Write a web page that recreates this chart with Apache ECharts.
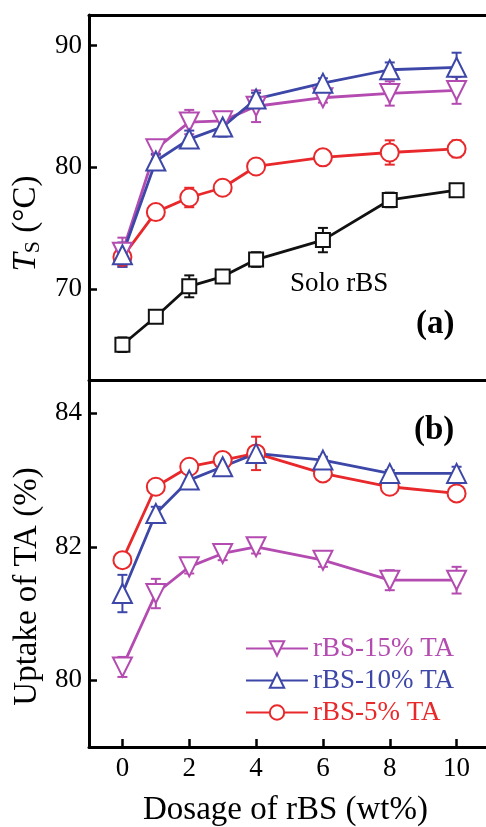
<!DOCTYPE html>
<html><head><meta charset="utf-8">
<script src="https://cdn.jsdelivr.net/npm/echarts@6/dist/echarts.min.js"></script>
<style>html,body{margin:0;padding:0;background:#fff}#c{width:486px;height:827px}</style>
</head><body><div id="c"></div><script>
// ---- data ----
const dosage = [0, 1, 2, 3, 4, 6, 8, 10];
const xTicks = [0, 2, 4, 6, 8, 10];
const tsTicks = [70, 80, 90];
const upTicks = [80, 82, 84];

// panel (a): Ts (°C)
const tsSolo = [65.4, 67.7, 70.2, 71.0, 72.4, 74.0, 77.3, 78.1];
const tsSoloErr = [0.6, 0.2, 0.9, 0.3, 0.6, 1.0, 0.6, 0.5];
const tsTA5 = [72.6, 76.3, 77.5, 78.3, 80.05, 80.8, 81.2, 81.5];
const tsTA5Err = [0.3, 0.2, 0.8, 0.6, 0.3, 0.3, 1.0, 0.7];
const tsTA10 = [72.8, 80.5, 82.3, 83.3, 85.6, 86.9, 88.0, 88.2];
const tsTA10Err = [1.0, 0.6, 0.7, 0.8, 0.5, 0.4, 0.6, 1.2];
const tsTA15 = [73.0, 81.5, 83.7, 83.8, 85.0, 85.7, 86.05, 86.3];
const tsTA15Err = [1.2, 0.5, 1.0, 0.7, 1.3, 0.4, 1.0, 1.1];

// panel (b): Uptake of TA (%)
const upTA5 = [81.8, 82.9, 83.2, 83.3, 83.4, 83.1, 82.9, 82.8];
const upTA5Err = [0.05, 0.05, 0.05, 0.1, 0.25, 0.1, 0.05, 0.05];
const upTA10 = [81.3, 82.5, 83.0, 83.2, 83.4, 83.3, 83.1, 83.1];
const upTA10Err = [0.28, 0.1, 0.1, 0.1, 0.05, 0.05, 0.05, 0.1];
const upTA15 = [80.2, 81.3, 81.7, 81.9, 82.0, 81.8, 81.5, 81.5];
const upTA15Err = [0.15, 0.22, 0.1, 0.1, 0.1, 0.1, 0.15, 0.2];

const names = ['rBS-15% TA', 'rBS-10% TA', 'rBS-5% TA'];
const soloName = 'Solo rBS';

// ---- styling ----
const FONT = 'Liberation Serif';
const C15 = '#B44BB0', C10 = '#3D47A8', C5 = '#E8282B', CS = '#111111';

const pairs = (ys) => dosage.map((x, i) => [x, ys[i]]);
const errs = (ys, es) => dosage.map((x, i) => [x, ys[i] - es[i], ys[i] + es[i]]);

function errRender(color) {
  return function (params, api) {
    const x = api.value(0), lo = api.value(1), hi = api.value(2);
    const p1 = api.coord([x, lo]), p2 = api.coord([x, hi]);
    const w = 5;
    const st = { stroke: color, lineWidth: 2 };
    return { type: 'group', children: [
      { type: 'line', shape: { x1: p1[0], y1: p1[1], x2: p2[0], y2: p2[1] }, style: st },
      { type: 'line', shape: { x1: p1[0] - w, y1: p1[1], x2: p1[0] + w, y2: p1[1] }, style: st },
      { type: 'line', shape: { x1: p2[0] - w, y1: p2[1], x2: p2[0] + w, y2: p2[1] }, style: st }
    ]};
  };
}

function lineSeries(name, ys, color, symbol, size, rot, gi) {
  return {
    type: 'line', name, xAxisIndex: gi === 0 ? 0 : 2, yAxisIndex: gi,
    data: pairs(ys), symbol, symbolSize: size, symbolRotate: rot,
    showAllSymbol: true, z: 3,
    lineStyle: { color, width: 2.8 },
    itemStyle: { color, borderWidth: 2 },
    emphasis: { disabled: true }, animation: false
  };
}
function errSeries(ys, es, color, gi) {
  return {
    type: 'custom', xAxisIndex: gi === 0 ? 0 : 2, yAxisIndex: gi,
    data: errs(ys, es), encode: { x: 0, y: [1, 2] },
    renderItem: errRender(color), z: 2, silent: true, animation: false
  };
}

const axisLine = { show: true, onZero: false, lineStyle: { color: '#000', width: 3 } };
const labelStyle = { fontFamily: FONT, fontSize: 27, color: '#000' };

const chart = echarts.init(document.getElementById('c'), null, { renderer: 'canvas' });
chart.setOption({
  backgroundColor: '#fff',
  animation: false,
  grid: [
    { left: 89, top: 15, width: 401, height: 365, outerBoundsMode: 'none', containLabel: false },
    { left: 89, top: 380, width: 401, height: 367, outerBoundsMode: 'none', containLabel: false }
  ],
  xAxis: [
    { gridIndex: 0, type: 'value', min: -1, max: 11, position: 'bottom',
      axisLine, axisTick: { show: false }, axisLabel: { show: false }, splitLine: { show: false } },
    { gridIndex: 0, type: 'value', min: -1, max: 11, position: 'top',
      axisLine, axisTick: { show: false }, axisLabel: { show: false }, splitLine: { show: false } },
    { gridIndex: 1, type: 'value', min: -1, max: 11, position: 'bottom',
      axisLine,
      axisTick: { show: true, inside: true, length: 8, customValues: xTicks, lineStyle: { width: 2.5, color: '#000' } },
      axisLabel: Object.assign({ margin: 8, customValues: xTicks }, labelStyle),
      splitLine: { show: false },
      name: 'Dosage of rBS (wt%)', nameLocation: 'middle', nameGap: 47,
      nameTextStyle: { fontFamily: FONT, fontSize: 33, color: '#000', padding: [0, 8, 0, 0] } }
  ],
  yAxis: [
    { gridIndex: 0, type: 'value', min: 62.5, max: 92.5,
      axisLine,
      axisTick: { show: true, inside: true, length: 8, customValues: tsTicks, lineStyle: { width: 2.5, color: '#000' } },
      axisLabel: Object.assign({ margin: 7, customValues: tsTicks }, labelStyle),
      splitLine: { show: false },
      name: '{t|T}{s|S} (°C)', nameLocation: 'middle', nameGap: 43, nameRotate: 90,
      nameTextStyle: { fontFamily: FONT, fontSize: 33, color: '#000', padding: [0, 52, 0, 0],
        rich: { t: { fontFamily: FONT, fontSize: 33, fontStyle: 'italic', color: '#000' },
                s: { fontFamily: FONT, fontSize: 22, color: '#000', padding: [14, 0, 0, 0] } } } },
    { gridIndex: 1, type: 'value', min: 79, max: 84.5,
      axisLine,
      axisTick: { show: true, inside: true, length: 8, customValues: upTicks, lineStyle: { width: 2.5, color: '#000' } },
      axisLabel: Object.assign({ margin: 7, customValues: upTicks }, labelStyle),
      splitLine: { show: false },
      name: 'Uptake of TA (%)', nameLocation: 'middle', nameGap: 45, nameRotate: 90,
      nameTextStyle: { fontFamily: FONT, fontSize: 33, color: '#000', padding: [0, 46, 0, 0] } }
  ],
  legend: {
    orient: 'vertical', left: 240, top: 630, itemWidth: 62, itemHeight: 18, itemGap: 5,
    selectedMode: false,
    data: [
      { name: names[0], textStyle: { color: C15 } },
      { name: names[1], textStyle: { color: C10 } },
      { name: names[2], textStyle: { color: C5 } }
    ],
    textStyle: { fontFamily: FONT, fontSize: 27 }
  },
  graphic: [
    { type: 'text', left: 290, top: 270, silent: true,
      style: { text: soloName, fontFamily: FONT, fontSize: 27, fill: '#000' } },
    { type: 'text', left: 416, top: 308, silent: true,
      style: { text: '(a)', fontFamily: FONT, fontSize: 33, fontWeight: 'bold', fill: '#000' } },
    { type: 'text', left: 414, top: 414, silent: true,
      style: { text: '(b)', fontFamily: FONT, fontSize: 33, fontWeight: 'bold', fill: '#000' } }
  ],
  series: [
    errSeries(tsSolo, tsSoloErr, CS, 0),
    errSeries(tsTA5, tsTA5Err, C5, 0),
    errSeries(tsTA15, tsTA15Err, C15, 0),
    errSeries(tsTA10, tsTA10Err, C10, 0),
    lineSeries(soloName, tsSolo, CS, 'emptyRect', 14, 0, 0),
    lineSeries(names[2], tsTA5, C5, 'emptyCircle', 18, 0, 0),
    lineSeries(names[0], tsTA15, C15, 'emptyTriangle', 19, 180, 0),
    lineSeries(names[1], tsTA10, C10, 'emptyTriangle', 19, 0, 0),
    errSeries(upTA5, upTA5Err, C5, 1),
    errSeries(upTA15, upTA15Err, C15, 1),
    errSeries(upTA10, upTA10Err, C10, 1),
    lineSeries(names[2], upTA5, C5, 'emptyCircle', 18, 0, 1),
    lineSeries(names[0], upTA15, C15, 'emptyTriangle', 19, 180, 1),
    lineSeries(names[1], upTA10, C10, 'emptyTriangle', 19, 0, 1)
  ]
});
</script></body></html>
